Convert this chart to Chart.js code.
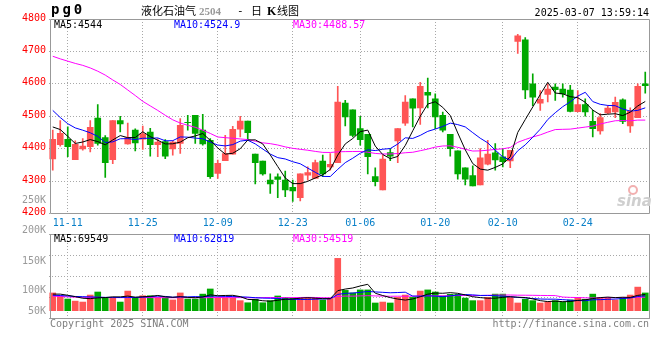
<!DOCTYPE html>
<html><head><meta charset="utf-8">
<script src="https://cdn.jsdelivr.net/npm/chart.js@4.4.1/dist/chart.umd.min.js"></script>
<style>
html,body{margin:0;padding:0;background:#fff;}
#wrap{position:relative;width:660px;height:360px;overflow:hidden;}
#c1{position:absolute;left:0;top:0;}
#c2{position:absolute;left:0;top:220px;}
</style></head><body>
<div id="wrap"><canvas id="c1" width="660" height="230"></canvas><canvas id="c2" width="660" height="140"></canvas></div>
<script>
const dates = ['11-07','11-08','11-11','11-12','11-13','11-14','11-15','11-18','11-19','11-20','11-21','11-22','11-25','11-26','11-27','11-28','11-29',
'12-02','12-03','12-04','12-05','12-06','12-09','12-10','12-11','12-12','12-13','12-16','12-17','12-18','12-19','12-20','12-23','12-24','12-25','12-26','12-27','12-30','12-31',
'01-02','01-03','01-06','01-07','01-08','01-09','01-10','01-13','01-14','01-15','01-16','01-17','01-20','01-21','01-22','01-23','01-24','01-27',
'02-05','02-06','02-07','02-10','02-11','02-12','02-13','02-14','02-17','02-18','02-19','02-20','02-21','02-24','02-25','02-26','02-27','02-28',
'03-03','03-04','03-05','03-06','03-07'];
const tickDates = ['11-11','11-25','12-09','12-23','01-06','01-20','02-10','02-24'];
const priceTicks = [4200,4300,4400,4500,4600,4700,4800];

const openP = [4368,4412,4429,4366,4399,4406,4494,4434,4366,4487,
4415,4457,4429,4451,4412,4422,4399,4416,4481,4503,
4457,4426,4324,4363,4383,4460,4485,4383,4362,4303,
4313,4303,4281,4249,4318,4308,4362,4344,4357,4541,
4520,4462,4444,4314,4273,4388,4424,4479,4554,4526,
4574,4554,4503,4444,4393,4341,4317,4288,4352,4387,
4375,4362,4731,4736,4600,4540,4567,4590,4584,4581,
4514,4536,4484,4455,4510,4513,4551,4470,4496,4600];
const closeP = [4429,4447,4406,4413,4408,4466,4416,4357,4487,4476,
4434,4418,4446,4412,4420,4377,4420,4472,4480,4447,
4415,4314,4355,4385,4460,4485,4449,4357,4322,4291,
4305,4273,4270,4322,4326,4357,4322,4352,4544,4498,
4441,4428,4375,4298,4368,4377,4462,4544,4525,4592,
4565,4498,4457,4400,4322,4306,4285,4372,4383,4365,
4360,4395,4748,4581,4559,4552,4584,4582,4569,4515,
4536,4513,4462,4496,4525,4543,4484,4515,4592,4594];
const highP = [4457,4487,4467,4424,4431,4487,4536,4440,4487,4500,
4479,4461,4470,4463,4431,4428,4424,4493,4503,4503,
4506,4431,4365,4441,4469,4500,4485,4383,4362,4322,
4322,4331,4303,4322,4344,4365,4380,4385,4592,4549,
4520,4500,4444,4341,4380,4400,4462,4564,4554,4605,
4618,4569,4513,4444,4393,4341,4347,4400,4426,4416,
4400,4395,4753,4743,4631,4579,4600,4600,4600,4595,
4579,4554,4518,4508,4533,4559,4554,4526,4600,4636];
const lowP = [4334,4408,4375,4366,4395,4390,4411,4311,4354,4452,
4414,4393,4398,4377,4375,4369,4380,4385,4457,4416,
4411,4308,4308,4363,4383,4436,4431,4291,4318,4262,
4249,4252,4237,4239,4303,4308,4314,4334,4357,4470,
4436,4411,4322,4285,4273,4363,4357,4472,4467,4475,
4526,4462,4452,4377,4306,4288,4285,4288,4350,4334,
4344,4341,4694,4554,4533,4518,4544,4549,4559,4513,
4513,4500,4436,4445,4508,4496,4477,4450,4496,4571];

const ma5 = [4467,4459,4438,4416,4420.6,4428,4421.8,4412,4426.8,4440.4,
4434,4434.4,4452.2,4437.2,4426,4414.6,4415,4420.2,4433.8,4439.2,
4446.8,4425.6,4402.2,4383.2,4385.8,4399.8,4426.8,4427.2,4414.6,4380.8,
4344.8,4309.6,4292.2,4292.2,4299.2,4309.6,4319.4,4335.8,4380.2,4414.6,
4431.4,4452.6,4457.2,4408,4382,4369.2,4376,4409.8,4455.2,4500,
4537.6,4544.8,4527.4,4502.4,4448.4,4396.6,4354,4337,4333.6,4342.2,
4353,4375,4450.2,4489.8,4528.6,4567,4604.8,4571.6,4569.2,4560.4,
4557.2,4543,4519,4504.4,4506.4,4507.8,4502,4512.6,4531.8,4545.6];
const ma10 = [4518,4496,4477,4464,4457,4449,4438,4419,4421,4430.5,
4431,4428.1,4432.1,4432,4433.2,4424.3,4424.7,4436.2,4435.5,4432.6,
4430.7,4420.3,4411.2,4408.5,4412.5,4423.3,4426.2,4414.7,4398.9,4383.3,
4372.3,4368.2,4359.7,4353.4,4340,4327.2,4314.5,4314,4336.2,4356.9,
4370.5,4386,4396.5,4394.1,4398.3,4400.3,4414.3,4433.5,4431.6,4441,
4453.4,4460.4,4468.6,4478.8,4474.2,4467.1,4449.4,4432.2,4418,4395.3,
4374.8,4364.5,4393.6,4411.7,4435.4,4460,4489.9,4510.9,4529.5,4544.5,
4562.1,4573.9,4545.3,4536.8,4533.4,4532.5,4522.5,4515.8,4518.1,4526];
const ma30 = [4685,4677,4670,4663,4657,4649,4639,4627,4612,4598,
4581,4564,4546,4532,4518,4503,4489,4479,4472,4466,
4457,4447,4436,4434,4432,4430,4428,4423,4418,4415.5,
4411.3,4405.5,4401,4398,4395.2,4391.6,4388.5,4388.3,4390.2,4390.9,
4391.2,4391.5,4389.1,4385.3,4383.6,4383.6,4385,4387.4,4388.9,4393.7,
4398.7,4404.9,4408.3,4408.8,4404.2,4398.2,4392.7,4393.2,4395.3,4397.7,
4399.6,4403.6,4419.6,4428.2,4436,4442.5,4451.2,4458.9,4459.7,4460.3,
4463.4,4466.6,4469.5,4476.1,4481.3,4486.1,4486.8,4485.9,4488.1,4488.1];

const volume = [76000,63000,50000,41000,37000,67000,80000,56000,56000,37000,
84000,57000,64000,64000,57000,56000,46000,76000,50000,50000,
71000,93000,56000,56000,53000,43000,34000,49000,34000,43000,
63000,57000,53000,53000,53000,53000,46000,53000,224000,87000,
76000,89000,89000,33000,37000,33000,57000,67000,57000,84000,
89000,80000,63000,70000,70000,54000,43000,43000,57000,71000,
71000,57000,33000,49000,43000,33000,37000,43000,37000,46000,
57000,49000,71000,57000,57000,46000,57000,67000,101000,76000];
const volMa5 = [71000,71000,66000,60000,53400,51600,55000,56200,59200,59200,
62600,58000,59600,61200,65200,59600,57400,59800,57000,55600,
58600,68000,64000,65200,65800,60200,48400,47000,42600,40600,
44600,49200,50000,53800,55800,53800,51600,51600,85800,92600,
97200,105800,113000,74800,64800,56200,49800,45400,50200,59600,
70800,75400,74600,77200,74400,67400,60000,56000,53400,53600,
57000,59800,57800,56200,50600,43000,39000,41000,38600,39200,
44000,46400,52000,56000,58200,56000,57600,56800,65600,69400];
const volMa10 = [66000,65000,63000,61000,60000,59000,58000,57000,57000,56300,
57100,56500,57900,60200,62200,61100,57700,59700,59100,60400,
59100,62700,61900,61100,60700,59400,58200,55500,53900,53200,
52400,48800,48500,48200,48200,49200,50400,50800,69800,74200,
75500,78700,82300,80300,78700,76700,77800,79200,62500,62200,
63500,62600,60000,63700,67000,69100,67700,65300,65300,64000,
62200,59900,56900,54800,52100,50000,49400,49400,47400,44900,
43500,42700,46500,47300,48700,50000,52000,54400,60800,63800];
const volMa30 = [62000,61000,59000,58000,57500,57000,57000,56500,56000,56000,
56000,56500,56500,56000,56000,55500,55500,56000,56000,55500,
55500,56000,56500,56000,56000,56000,55500,55500,56000,56600,
56200,56000,56100,56500,57000,56600,55400,55300,60900,62600,
62300,63400,64200,63200,62500,61800,62100,61800,62100,63200,
63800,63400,63600,64100,64600,65000,65300,65100,65900,66800,
67100,67100,66400,66300,65900,65300,65000,64600,58400,57000,
56400,55100,54500,55300,55900,56400,56400,56400,57800,57600];

const UP = '#ff5555', DOWN = '#00a800';
const candleColors = dates.map((d, i) => closeP[i] >= openP[i] ? UP : DOWN);
const GRID = '#a8a8a8', FRAME = '#999999';
const MONO = "'DejaVu Sans Mono', monospace";

const gridX = {
  offset: true,
  grid: { offset: false, drawTicks: false, color: c => tickDates.includes(dates[c.index]) ? GRID : 'rgba(0,0,0,0)' },
  border: { display: false, dash: [1, 2] }
};

function lineDs(data, color) {
  return { type: 'line', data, borderColor: color, borderWidth: 1, pointRadius: 0, tension: 0, order: 0 };
}

const frame1 = {
  id: 'frame1',
  afterDraw(chart) {
    const ctx = chart.ctx, a = chart.chartArea;
    ctx.save();
    ctx.strokeStyle = FRAME; ctx.lineWidth = 1;
    ctx.beginPath();
    ctx.moveTo(a.left + 1.5, a.top + 0.5); ctx.lineTo(a.right + 0.5, a.top + 0.5);
    ctx.lineTo(a.right + 0.5, a.bottom); ctx.lineTo(a.left + 1.5, a.bottom); ctx.closePath();
    ctx.stroke();
    // header
    ctx.textBaseline = 'alphabetic';
    ctx.fillStyle = '#000';
    ctx.font = "bold 14px " + MONO;
    ctx.letterSpacing = '3px';
    ctx.fillText('pg0', 51, 14);
    ctx.letterSpacing = '0px';
    ctx.font = "11px 'Noto Sans CJK SC'";
    ctx.fillText('液化石油气', 141, 15);
    ctx.fillStyle = '#999';
    ctx.font = "bold 11px 'Liberation Serif'";
    ctx.fillText('2504', 199, 15);
    ctx.fillStyle = '#000';
    ctx.font = "11px " + MONO;
    ctx.fillText('-', 237, 14);
    ctx.font = "11px 'Noto Sans CJK SC'";
    ctx.fillText('日', 251, 15);
    ctx.font = "bold 12px 'Liberation Serif'";
    ctx.fillText('K', 267, 15);
    ctx.font = "11px 'Noto Sans CJK SC'";
    ctx.fillText('线图', 277, 15);
    ctx.font = "10px " + MONO;
    ctx.textAlign = 'right';
    ctx.fillText('2025-03-07 13:59:14', 649, 16);
    ctx.textAlign = 'left';
    ctx.fillStyle = '#000'; ctx.fillText('MA5:4544', 54, 28);
    ctx.fillStyle = '#0000ff'; ctx.fillText('MA10:4524.9', 174, 28);
    ctx.fillStyle = '#ff00ff'; ctx.fillText('MA30:4488.57', 293, 28);
    ctx.fillStyle = '#999'; ctx.textAlign = 'right'; ctx.textBaseline = 'middle';
    ctx.fillText('250K', 46, 200);
    // watermark
    ctx.textAlign = 'left'; ctx.textBaseline = 'alphabetic';
    ctx.fillStyle = '#cfcfcf';
    ctx.font = "italic bold 15px 'DejaVu Sans'";
    ctx.fillText('sina', 617, 206);
    ctx.strokeStyle = '#f2b0b0'; ctx.lineWidth = 2;
    ctx.beginPath(); ctx.arc(633, 190, 4, 0, Math.PI * 2); ctx.stroke();
    ctx.restore();
  }
};

new Chart(document.getElementById('c1'), {
  type: 'bar',
  data: {
    labels: dates,
    datasets: [
      lineDs(ma5, '#000000'),
      lineDs(ma10, '#0000ff'),
      lineDs(ma30, '#ff00ff'),
      { type: 'bar', data: dates.map((d, i) => [openP[i], closeP[i]]), backgroundColor: candleColors, barThickness: 6, grouped: false, order: 1, borderWidth: 0 },
      { type: 'bar', data: dates.map((d, i) => [lowP[i], highP[i]]), backgroundColor: candleColors, barThickness: 1, grouped: false, order: 2, borderWidth: 0 }
    ]
  },
  options: {
    responsive: false, animation: false, devicePixelRatio: 1,
    layout: { padding: { top: 19, right: 11, left: 0, bottom: 0 } },
    plugins: { legend: { display: false }, tooltip: { enabled: false } },
    scales: {
      x: Object.assign({}, gridX, {
        ticks: { autoSkip: false, maxRotation: 0, minRotation: 0, color: '#0a80c8', padding: 4,
          font: { family: MONO, size: 10 },
          callback: (v, i) => tickDates.includes(dates[i]) ? dates[i] : '' },
        afterFit(s) { s.height = 16.5; }
      }),
      y: {
        min: priceTicks[0], max: priceTicks[priceTicks.length - 1],
        afterBuildTicks(s) { s.ticks = priceTicks.map(v => ({ value: v })); },
        ticks: { color: '#ff0000', padding: 3, labelOffset: -1, font: { family: MONO, size: 10 },
          callback: v => String(v) },
        grid: { color: GRID, drawTicks: false },
        border: { display: false, dash: [1, 2] },
        afterFit(s) { s.width = 49; }
      }
    }
  },
  plugins: [frame1]
});

const frame2 = {
  id: 'frame2',
  afterDraw(chart) {
    const ctx = chart.ctx, a = chart.chartArea;
    ctx.save();
    ctx.strokeStyle = FRAME; ctx.lineWidth = 1;
    ctx.strokeRect(a.left + 1.5, a.top + 0.5, a.right - a.left - 1, a.bottom - a.top);
    ctx.font = "10px " + MONO;
    ctx.textBaseline = 'alphabetic';
    ctx.fillStyle = '#000'; ctx.fillText('MA5:69549', 54, 22);
    ctx.fillStyle = '#0000ff'; ctx.fillText('MA10:62819', 174, 22);
    ctx.fillStyle = '#ff00ff'; ctx.fillText('MA30:54519', 293, 22);
    ctx.fillStyle = '#999'; ctx.textAlign = 'right'; ctx.textBaseline = 'middle';
    ctx.fillText('200K', 46, 10);
    ctx.fillText('150K', 46, 41);
    ctx.fillText('100K', 46, 70.5);
    ctx.fillText('50K', 46, 91);
    ctx.fillStyle = '#808080';
    ctx.textAlign = 'left';
    ctx.fillText('Copyright 2025 SINA.COM', 50, 104);
    ctx.textAlign = 'right';
    ctx.fillText('http://finance.sina.com.cn', 649, 104);
    ctx.restore();
  }
};

new Chart(document.getElementById('c2'), {
  type: 'bar',
  data: {
    labels: dates,
    datasets: [
      lineDs(volMa5, '#000000'),
      lineDs(volMa10, '#0000ff'),
      lineDs(volMa30, '#ff00ff'),
      { type: 'bar', data: volume, backgroundColor: candleColors, barThickness: 6, order: 1, borderWidth: 0 }
    ]
  },
  options: {
    responsive: false, animation: false, devicePixelRatio: 1,
    layout: { padding: { top: 14, right: 11, left: 0, bottom: 42 } },
    plugins: { legend: { display: false }, tooltip: { enabled: false } },
    scales: {
      x: Object.assign({}, gridX, { ticks: { display: false }, afterFit(s) { s.height = 0; } }),
      y: {
        min: -31250, max: 328300,
        afterBuildTicks(s) { s.ticks = [0, 1, 2, 3, 4].map(k => ({ value: s.min + k * (s.max - s.min) / 4 })); },
        ticks: { display: false },
        grid: { color: GRID, drawTicks: false },
        border: { display: false, dash: [1, 2] },
        afterFit(s) { s.width = 49; }
      }
    }
  },
  plugins: [frame2]
});
</script>
</body></html>
